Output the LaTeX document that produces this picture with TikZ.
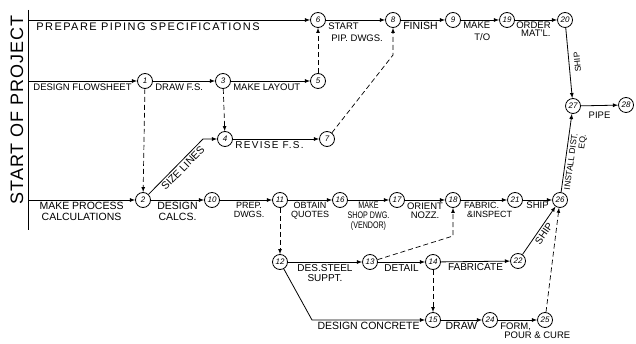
\documentclass[tikz,border=0pt]{standalone}
\usepackage{fontspec}
\setmainfont{Liberation Sans}
\newfontfamily\spacedfont[LetterSpace=13]{Liberation Sans}
\newfontfamily\titlefont[LetterSpace=5]{Liberation Sans}
\newfontfamily\narrowfont[FakeStretch=0.75]{Liberation Sans}
\usetikzlibrary{arrows, positioning}

\begin{document}
\begin{tikzpicture}[
    x=1pt, y=-1pt,
    event/.style={draw, circle, minimum size=15pt, inner sep=0pt, fill=white, line width=0.8pt, font=\fontsize{8}{8}\selectfont\itshape},
    job/.style={-latex, line width=0.8pt},
    dummy/.style={-latex, line width=0.7pt, dash pattern=on 5pt off 3pt},
    lbl/.style={inner sep=2pt, align=center, font=\fontsize{#1}{#1}\selectfont},
    lbl/.default=9.5
]
\useasboundingbox (0,0) rectangle (636,344);

% Start of project axis
\coordinate (axtop) at (28,10);
\coordinate (axbot) at (28,230);
\coordinate (s1) at (28,20);
\coordinate (s2) at (28,81);
\coordinate (s3) at (28,200);
\draw[line width=0.8pt] (axtop) -- (axbot);
\node[rotate=90, inner sep=0pt, font=\titlefont\fontsize{18}{18}\selectfont] (start) at (17,110) {START OF PROJECT};

% Events
\node[event] (e1) at (145,81) {1};
\node[event] (e2) at (143,200) {2};
\node[event] (e3) at (223,81) {3};
\node[event] (e4) at (225,139) {4};
\node[event] (e5) at (318,81) {5};
\node[event] (e6) at (318,20) {6};
\node[event] (e7) at (327,139) {7};
\node[event] (e8) at (393,20) {8};
\node[event] (e9) at (453,20) {9};
\node[event] (e10) at (212,200) {10};
\node[event] (e11) at (280,200) {11};
\node[event] (e12) at (280,262) {12};
\node[event] (e13) at (370,262) {13};
\node[event] (e14) at (433,262) {14};
\node[event] (e15) at (433,320) {15};
\node[event] (e16) at (340,200) {16};
\node[event] (e17) at (397,200) {17};
\node[event] (e18) at (453,200) {18};
\node[event] (e19) at (507,20) {19};
\node[event] (e20) at (565,20) {20};
\node[event] (e21) at (515,200) {21};
\node[event] (e22) at (518,261) {22};
\node[event] (e24) at (490,320) {24};
\node[event] (e25) at (545,320) {25};
\node[event] (e26) at (560,200) {26};
\node[event] (e27) at (573,106) {27};
\node[event] (e28) at (626,105) {28};

% Bends
\coordinate (b24) at (203,139);
\coordinate (b78) at (393,55);
\coordinate (b1318) at (453,236);
\coordinate (b1215) at (312,320);

% Piping specifications
\draw[job] (s1) -- (e6) node[lbl, pos=0, below right, xshift=6pt, font=\spacedfont\fontsize{11}{11}\selectfont] {PREPARE PIPING SPECIFICATIONS};
\draw[job] (e6) -- (e8) node[lbl, pos=0, below right, align=left] {START\\[3pt]\hspace{3pt}PIP. DWGS.};
\draw[job] (e8) -- (e9) node[lbl=10.5, pos=0, below right] {FINISH};
\draw[job] (e9) -- (e19) node[lbl, pos=0, below right, align=right] {MAKE\\[2pt]T/O};
\draw[job] (e19) -- (e20) node[lbl, pos=0, below right, align=right, inner sep=1pt, font=\fontsize{9.5}{8}\selectfont] {ORDER\\MAT'L.};
\draw[job] (e20) -- (e27) node[lbl=8.5, midway, anchor=north, rotate=95, inner sep=5pt] {SHIP};
\draw[job] (e27) -- (e28) node[lbl, midway, below=4pt] {PIPE};

% Flowsheet
\draw[job] (s2) -- (e1) node[lbl, pos=0, below right, xshift=3pt] {DESIGN FLOWSHEET};
\draw[job] (e1) -- (e3) node[lbl, pos=0, below right] {DRAW F.S.};
\draw[job] (e3) -- (e5) node[lbl, pos=0, below right] {MAKE LAYOUT};
\draw[job] (e2) -- (b24) node[lbl=10.5, pos=0.55, sloped, below] {SIZE LINES} -- (e4);
\draw[job] (e4) -- (e7) node[lbl, pos=0, below right, font=\spacedfont\fontsize{10}{10}\selectfont] {REVISE F.S.};

% Process calculations
\draw[job] (s3) -- (e2) node[lbl=10.5, midway, below] {MAKE PROCESS\\CALCULATIONS};
\draw[job] (e2) -- (e10) node[lbl=10.5, midway, below] {DESIGN\\CALCS.};
\draw[job] (e10) -- (e11) node[lbl=9, midway, below, xshift=3pt] {PREP.\\DWGS.};
\draw[job] (e11) -- (e16) node[lbl=9, midway, below] {OBTAIN\\QUOTES};
\draw[job] (e16) -- (e17) node[lbl, midway, below, font=\narrowfont\fontsize{9.5}{10}\selectfont] {MAKE\\SHOP DWG.\\(VENDOR)};
\draw[job] (e17) -- (e18) node[lbl, midway, below] {ORIENT\\NOZZ.};
\draw[job] (e18) -- (e21) node[lbl=9, midway, below, align=left, xshift=4pt] {FABRIC.\\\hspace{3pt}\&INSPECT};
\draw[job] (e21) -- (e26) node[lbl, midway, below, inner sep=1pt] {SHIP};
\draw[job] (e26) -- (e27) node[lbl=8.5, pos=0.4, sloped, below, align=right] {INSTALL DIST.\\EQ.};

% Supports and foundations
\draw[job] (e12) -- (e13) node[lbl=10, midway, below] {DES.STEEL\\SUPPT.};
\draw[job] (e13) -- (e14) node[lbl=10, midway, below] {DETAIL};
\draw[job] (e14) -- (e22) node[lbl=10, midway, below] {FABRICATE};
\draw[job] (e22) -- (e26) node[lbl=10, midway, sloped, below] {SHIP};
\draw[job] (e12) -- (b1215) -- (e15) node[lbl=10.5, midway, below] {DESIGN CONCRETE};
\draw[job] (e15) -- (e24) node[lbl=10.5, midway, below] {DRAW};
\draw[job] (e24) -- (e25) node[lbl, pos=0, below right, align=left] {FORM,\\\hspace{4pt}POUR \& CURE};

% Dummy activities
\draw[dummy] (e1) -- (e2);
\draw[dummy] (e3) -- (e4);
\draw[dummy] (e5) -- (e6);
\draw[dummy] (e7) -- (b78) -- (e8);
\draw[dummy] (e11) -- (e12);
\draw[dummy] (e14) -- (e15);
\draw[dummy] (e13) -- (b1318) -- (e18);
\draw[dummy] (e25) -- (e26);
\end{tikzpicture}
\end{document}
